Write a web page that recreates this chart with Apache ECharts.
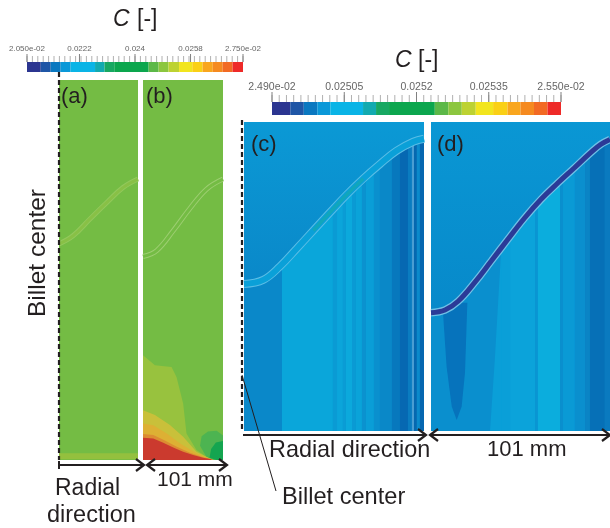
<!DOCTYPE html>
<html>
<head>
<meta charset="utf-8">
<style>html,body{margin:0;padding:0;background:#fff}#c{width:610px;height:528px;filter:blur(0.4px)}</style>
<script src="https://cdn.jsdelivr.net/npm/echarts@6/dist/echarts.min.js"></script>
</head>
<body>
<div id="c"></div>
<script>
// ---- colour scale shared by both bars
const barColors = ['#2B3590','#1F56A6','#0A78C0','#0A98D8','#0AB4E6','#12AAB0','#18A862','#0CA64E','#5CB848','#8CC63F','#BDD232','#F2E51E','#FAD016','#F9A61E','#F58A20','#F26A24','#EE2A28'];
const barOneEdges = [0.0205,0.020945,0.021268,0.021591,0.021914,0.022705,0.023013,0.023328,0.024441,0.024763,0.025085,0.025428,0.025855,0.026191,0.02652,0.026842,0.027164,0.0275];
const barTwoEdges = [0.0249,0.024938,0.024966,0.024994,0.025021,0.025089,0.025116,0.025143,0.025238,0.025266,0.025294,0.025323,0.025359,0.025389,0.025416,0.025444,0.025472,0.0255];
const barOneTicks = [0.0205,0.0222,0.024,0.0258,0.0275];
const barOneLabels = ['2.050e-02','0.0222','0.024','0.0258','2.750e-02'];
const barTwoTicks = [0.0249,0.02505,0.0252,0.02535,0.0255];
const barTwoLabels = ['2.490e-02','0.02505','0.0252','0.02535','2.550e-02'];

// ---- panels a, b : radial position (mm) and height (mm)
const curveAx = [0,18.3,39.6,60.9,82.2,101];
const curveAy = [273,283.5,304.5,325,344.4,354.9];
const curveBx = [0,17.3,38.3,59.4,80.4,101];
const curveBy = [257,264.6,289.8,318,342.3,354.9];
const stripAx = [0,101,101,0];
const stripAy = [1,1,8.5,8.5];
const levelOneX = [0,15.1,36,42.3,50.7,54.9,67.5,84.2,84.2,0];
const levelOneY = [132.3,119.7,117.6,105,71.4,33.6,12.6,0.8,0,0];
const levelTwoX = [0,15.1,34,50.7,67.5,86,86,0];
const levelTwoY = [63,56.7,44.1,29.4,10.5,0.8,0,0];
const levelThreeX = [0,13,30,46.9,67.5,86,86,0];
const levelThreeY = [46.2,44,33.6,21,8.4,0.8,0,0];
const levelFourX = [0,13,27,42,60,76,88,88,0];
const levelFourY = [33,31.5,25,17,9,3.5,0.8,0,0];
const levelFiveX = [0,13,25.6,38.2,50.7,63.3,75.9,86.3,86.3,0];
const levelFiveY = [28,27.3,21.8,15.9,10.5,6.3,2.9,0.8,0,0];
const blobOuterX = [72,74,82,93,101,101,90,80];
const blobOuterY = [18,30,36,37,31,0,0,4];
const blobInnerX = [84,86,92,101,101,93];
const blobInnerY = [3,14,22,24,0,0];

// ---- panel c
const stripeCEdges = [0,21.3,49.9,52.2,55.5,57.2,60.6,62.8,66.2,68.4,72.9,76.3,83,87.5,92,94.2,95.4,97,98.7,101];
const stripeCColors = ['#0A88C9','#0AA6DA','#0A9BD4','#0BA5DA','#0A9CD5','#0BA9DC','#0A9AD4','#0AA3D9','#0B92CF','#0A9ED7','#0A90CE','#0A88C8','#0778BD','#0668B2','#0A7CC0','#4A9DD2','#0668B0','#0B8ACB','#0667B0'];
const curveCx = [0,10.8,20.2,29.5,38.9,48.2,57.6,66.9,76.3,85.6,95,101];
const curveCy = [82.5,84.8,92.4,102.3,112.5,122.6,132.6,141.6,149.8,157.2,162.3,164];
const tealCx = [38.9,48.2,57.6,66.9];
const tealCy = [112.5,122.6,132.6,141.6];

// ---- panel d
const stripeDEdges = [0,39.5,44.6,58.7,60.3,72.8,74.5,81.2,86.9,89.7,98.1,101];
const stripeDColors = ['#0A8FCE','#0A9FD8','#0BA3DA','#0A95D2','#0BADDD','#0A8FCE','#0A9AD5','#0A8FCE','#0A84C5','#0670B7','#0A7ABF'];
const curveDx = [0,7.9,15.3,24.7,34,43.4,52.7,62.1,71.4,80.8,90.1,95.7,101];
const curveDy = [66.4,67.9,72.8,83.4,95.4,107.6,119.4,130,139,147.6,156.2,160.8,163.6];
const wedgeX = [6.4,8.8,11.7,14.5,17.3,19.2,20.5];
const wedgeY = [72,36.1,13.7,6.2,13.7,33,72];
const bendX = [33.3,36,39.5,39.5];
const bendY = [0,40,100,0];

const topC = 173.4, topA = 480;
const ink = '#231F20', font = 'Liberation Sans';
const zip = (a, b) => a.map((v, i) => [v, b[i]]);
const vgrad = (a, b) => new echarts.graphic.LinearGradient(0, 0, 0, 1, [{offset:0,color:a},{offset:1,color:b}]);

function poly(g, xs, ys, fill, z) {
  return { type:'custom', coordinateSystem:'cartesian2d', xAxisIndex:g, yAxisIndex:g, silent:true, clip:true, z:z,
    data: zip(xs, ys),
    renderItem: (p, api) => {
      if (p.dataIndex !== 0) return null;
      return { type:'polygon', shape:{ points: xs.map((x, i) => api.coord([x, ys[i]])) }, style:{ fill: fill } };
    } };
}
function stripes(g, edges, colors, ymax, z) {
  return { type:'custom', coordinateSystem:'cartesian2d', xAxisIndex:g, yAxisIndex:g, silent:true, clip:true, z:z,
    data: colors.map((c, i) => [edges[i], edges[i + 1]]),
    encode:{ x:[0,1] },
    renderItem: (p, api) => {
      const a = api.coord([api.value(0), ymax]), b = api.coord([api.value(1), 0]);
      return { type:'rect', shape:{ x:a[0], y:a[1], width:b[0]-a[0], height:b[1]-a[1] }, style:{ fill: colors[p.dataIndex] } };
    } };
}
function curve(g, xs, ys, color, width, z, opacity) {
  return { type:'line', xAxisIndex:g, yAxisIndex:g, data: zip(xs, ys), smooth:0.4, showSymbol:false, silent:true, z:z,
    lineStyle:{ color:color, width:width, opacity: opacity === undefined ? 1 : opacity, cap:'butt' } };
}
function ticks(g, values, len, color, z) {
  return { type:'custom', coordinateSystem:'cartesian2d', xAxisIndex:g, yAxisIndex:g, silent:true, clip:false, z:z,
    data: values.map(v => [v, 1]),
    renderItem: (p, api) => {
      const a = api.coord([api.value(0), 1]);
      return { type:'line', shape:{ x1:a[0], y1:a[1], x2:a[0], y2:a[1]-len }, style:{ stroke:color, lineWidth:1 } };
    } };
}

const panels = [
  { left:59, top:80, width:79, height:380, ymax:topA, bg:'#74BC44' },
  { left:143, top:80, width:80, height:380, ymax:topA, bg:'#74BC44' },
  { left:244, top:122, width:180, height:309, ymax:topC, bg:'#0A8CCB' },
  { left:431, top:122, width:180, height:309, ymax:topC, bg:'#0A8FCE' }
];
const grids = panels.map(p => ({ left:p.left, top:p.top, width:p.width, height:p.height, show:true, backgroundColor:p.bg, borderWidth:0 }));
const xAxes = panels.map((p, i) => ({ type:'value', gridIndex:i, min:0, max:101, show:false }));
const yAxes = panels.map((p, i) => ({ type:'value', gridIndex:i, min:0, max:p.ymax, show:false }));

// colour bars
const bars = [
  { left:27, top:62, width:216, height:10, edges:barOneEdges, ticks:barOneTicks, labels:barOneLabels, size:8, minorLen:6, majorLen:8, margin:9 },
  { left:272, top:102, width:289, height:13, edges:barTwoEdges, ticks:barTwoTicks, labels:barTwoLabels, size:10.5, minorLen:7, majorLen:10, margin:9 }
];
const barSeries = [];
bars.forEach(b => {
  const gi = grids.length;
  grids.push({ left:b.left, top:b.top, width:b.width, height:b.height });
  const lo = b.edges[0], hi = b.edges[b.edges.length - 1];
  const minor = [];
  for (let k = 0; k <= 40; k++) minor.push(lo + (hi - lo) * k / 40);
  xAxes.push({ type:'value', gridIndex:gi, min:lo, max:hi, position:'top', axisLine:{show:false}, splitLine:{show:false}, axisTick:{show:false},
    axisLabel:{ show:true, customValues:b.ticks, margin:b.margin, fontFamily:font, fontSize:b.size, color:'#666',
      showMinLabel:true, showMaxLabel:true, hideOverlap:false,
      formatter:v => b.labels[b.ticks.indexOf(b.ticks.reduce((m, t) => Math.abs(t - v) < Math.abs(m - v) ? t : m))] } });
  yAxes.push({ type:'value', gridIndex:gi, min:0, max:1, show:false });
  barSeries.push(stripes(gi, b.edges, barColors, 1, 5));
  barSeries.push(ticks(gi, minor, b.minorLen, '#B0B0B0', 6));
  barSeries.push(ticks(gi, b.ticks, b.majorLen, '#808080', 7));
});

const series = [
  // panel a
  poly(0, stripAx, stripAy, '#94C03E', 3),
  curve(0, curveAx, curveAy, '#9ACB62', 5, 4, 0.8),
  curve(0, curveAx, curveAy, '#88C046', 3, 5),
  // panel b
  poly(1, levelOneX, levelOneY, '#98C23E', 2),
  poly(1, blobOuterX, blobOuterY, '#4DB451', 3),
  poly(1, blobInnerX, blobInnerY, '#14A550', 3),
  poly(1, levelTwoX, levelTwoY, '#C9C03A', 4),
  poly(1, levelThreeX, levelThreeY, '#DDB034', 5),
  poly(1, levelFourX, levelFourY, '#DC8C32', 6),
  poly(1, levelFiveX, levelFiveY, '#CB3A2E', 7),
  curve(1, curveBx, curveBy, '#A6D27C', 5, 4, 0.8),
  curve(1, curveBx, curveBy, '#74BC44', 3, 5),
  // panel c
  stripes(2, stripeCEdges, stripeCColors, topC, 2),
  poly(2, curveCx.concat([101,0]), curveCy.concat([topC,topC]), vgrad('#0B99D5','#0A88C9'), 3),
  curve(2, curveCx, curveCy, '#5ABDE6', 8, 4),
  curve(2, curveCx, curveCy, '#0AA0D8', 6, 5),
  curve(2, tealCx, tealCy, '#12A6B8', 3.5, 6, 0.9),
  // panel d
  stripes(3, stripeDEdges, stripeDColors, topC, 2),
  poly(3, bendX, bendY, '#0A9FD8', 3),
  poly(3, wedgeX, wedgeY, '#0673BC', 3),
  poly(3, curveDx.concat([101,0]), curveDy.concat([topC,topC]), vgrad('#0A97D4','#0789CA'), 4),
  curve(3, curveDx, curveDy, '#6FC0E6', 7.5, 5),
  curve(3, curveDx, curveDy, '#2B3A97', 5, 6)
].concat(barSeries);

// annotation text and leader lines
function txt(text, x, y, size, italic, rot) {
  return { type:'text', x:x, y:y, z:50, rotation:rot || 0, style:{ text:text, fontFamily:font, fontSize:size, fontStyle: italic ? 'italic' : 'normal', fill:ink, textAlign: rot ? 'center' : 'left', textVerticalAlign:'middle' } };
}
function seg(x1, y1, x2, y2, w, dash) {
  return { type:'line', z:50, shape:{x1,y1,x2,y2}, style:{ stroke:ink, lineWidth:w, lineDash:dash || null } };
}
function head(x, y, dir) {
  return { type:'polyline', z:50, shape:{ points:[[x + dir*-8, y-6],[x, y],[x + dir*-8, y+6]] }, style:{ stroke:ink, lineWidth:2.2, fill:'none' } };
}
const graphic = [
  txt('C', 113, 20, 23, true), txt('[-]', 137, 20, 23),
  txt('C', 395, 61, 23, true), txt('[-]', 418, 61, 23),
  txt('(a)', 61, 97, 22), txt('(b)', 146, 97, 22), txt('(c)', 251, 145, 22), txt('(d)', 437, 145, 22),
  txt('Billet center', 38, 253, 24.5, false, Math.PI/2),
  txt('Radial', 55, 489, 23), txt('direction', 47, 516, 23.5),
  txt('101 mm', 157, 480, 21), txt('101 mm', 487, 450, 22),
  txt('Radial direction', 269, 451, 23.4), txt('Billet center', 282, 497, 23.6),
  seg(59, 72, 59, 460, 2.2, [5,3]),
  seg(242, 120, 242, 431, 2.2, [5,3]),
  seg(242, 375, 276, 491, 1),
  seg(59, 465, 142, 465, 2), seg(59, 461, 59, 469, 2), head(144, 465, 1),
  seg(148, 465, 226, 465, 2), head(147, 465, -1), head(227, 465, 1),
  seg(243, 435, 424, 435, 2), head(426, 435, 1),
  seg(431, 435, 609, 435, 2), head(430, 435, -1), head(610, 435, 1)
];

const chart = echarts.init(document.getElementById('c'), null, { width:610, height:528, renderer:'canvas' });
chart.setOption({ animation:false, backgroundColor:'#fff', grid:grids, xAxis:xAxes, yAxis:yAxes, series:series, graphic:graphic });
</script>
</body>
</html>
